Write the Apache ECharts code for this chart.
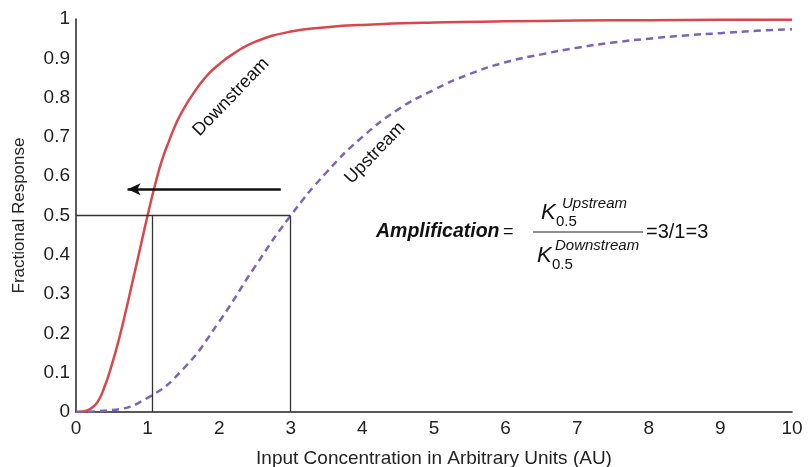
<!DOCTYPE html>
<html>
<head>
<meta charset="utf-8">
<script src="https://cdn.jsdelivr.net/npm/echarts@6/dist/echarts.min.js"></script>
<style>
  html, body { margin: 0; padding: 0; background: #fff; }
  #main { width: 809px; height: 467px; }
</style>
</head>
<body>
<div id="main"></div>
<script>
// data
var downX = [0, 0.1, 0.2, 0.3, 0.4, 0.5, 0.6, 0.7, 0.8, 0.9, 1.0, 1.1, 1.2, 1.3, 1.4, 1.5, 1.6, 1.8, 2.0, 2.2, 2.5, 3, 3.5, 4, 5, 6, 7, 8, 9, 10];
var downY = [0, 0.001, 0.008, 0.025, 0.065, 0.12, 0.185, 0.26, 0.34, 0.42, 0.5, 0.575, 0.64, 0.69, 0.735, 0.77, 0.8, 0.85, 0.885, 0.912, 0.942, 0.968, 0.979, 0.985, 0.991, 0.994, 0.996, 0.997, 0.998, 0.998];
var upX = [0, 0.5, 1, 1.5, 2, 2.5, 3, 3.5, 4, 4.5, 5, 5.5, 6, 6.5, 7, 7.5, 8, 8.5, 9, 9.5, 10];
var upY = [0, 0.005, 0.036, 0.11, 0.23, 0.37, 0.5, 0.61, 0.7, 0.77, 0.82, 0.86, 0.89, 0.91, 0.927, 0.94, 0.95, 0.958, 0.964, 0.97, 0.974];
var xTicks = [0, 1, 2, 3, 4, 5, 6, 7, 8, 9, 10];
var yTicks = ['0', '0.1', '0.2', '0.3', '0.4', '0.5', '0.6', '0.7', '0.8', '0.9', '1'];
var halfK = [1.06, 2.99];   // K0.5 guide lines
var arrowFrom = [2.86, 0.567];
var arrowTo = [0.72, 0.567];

var font = 'Liberation Sans, Arial, sans-serif';

function pairs(xs, ys) {
  var out = [];
  for (var i = 0; i < xs.length; i++) out.push([xs[i], ys[i]]);
  return out;
}

var chart = echarts.init(document.getElementById('main'));

var guideLine = { color: '#333', width: 1.3, type: 'solid' };

var option = {
  animation: false,
  grid: { left: 76, right: 17, top: 19, bottom: 55, containLabel: false, outerBoundsMode: 'none' },
  xAxis: {
    type: 'value', min: 0, max: 10, interval: 1,
    name: 'Input Concentration in Arbitrary Units (AU)',
    nameLocation: 'middle', nameGap: 37,
    nameTextStyle: { fontFamily: font, fontSize: 19, color: '#222' },
    axisLine: { lineStyle: { color: '#222', width: 1.5 } },
    axisTick: { show: false },
    splitLine: { show: false },
    axisLabel: { fontFamily: font, fontSize: 19, color: '#222', margin: 7,
      formatter: function (v) { return xTicks.indexOf(v) >= 0 ? String(v) : ''; } }
  },
  yAxis: {
    type: 'value', min: 0, max: 1, interval: 0.1,
    name: 'Fractional Response',
    nameLocation: 'middle', nameGap: 48,
    nameTextStyle: { fontFamily: font, fontSize: 17, color: '#222' },
    axisLine: { show: true, lineStyle: { color: '#222', width: 1.5 } },
    axisTick: { show: false },
    splitLine: { show: false },
    axisLabel: { fontFamily: font, fontSize: 19, color: '#222', margin: 6,
      formatter: function (v) { return yTicks[Math.round(v * 10)]; } }
  },
  series: [
    {
      name: 'Downstream', type: 'line', smooth: 0.5, showSymbol: false,
      data: pairs(downX, downY),
      lineStyle: { color: '#d9474b', width: 2.5 },
      z: 3,
      markLine: {
        silent: true, symbol: 'none', label: { show: false },
        lineStyle: guideLine,
        data: [
          [{ coord: [0, 0.5] }, { coord: [halfK[1], 0.5] }],
          [{ coord: [halfK[0], 0] }, { coord: [halfK[0], 0.5] }],
          [{ coord: [halfK[1], 0] }, { coord: [halfK[1], 0.5] }],
          [{ coord: arrowFrom, symbol: 'none' },
           { coord: arrowTo, symbol: 'arrow', symbolSize: [9, 13],
             lineStyle: { color: '#111', width: 2.5 } }]
        ]
      }
    },
    {
      name: 'Upstream', type: 'line', smooth: 0.5, showSymbol: false,
      data: pairs(upX, upY),
      lineStyle: { color: '#7b63b8', width: 2.5, type: [7, 5] },
      z: 3
    }
  ],
  graphic: [
    { type: 'text', x: 231, y: 97, rotation: 46 * Math.PI / 180,
      style: { text: 'Downstream', font: '18px ' + font, fill: '#111', align: 'center', verticalAlign: 'middle' } },
    { type: 'text', x: 375, y: 153, rotation: 46 * Math.PI / 180,
      style: { text: 'Upstream', font: '18px ' + font, fill: '#111', align: 'center', verticalAlign: 'middle' } },
    { type: 'text', x: 376, y: 232,
      style: { text: 'Amplification', font: 'italic bold 19.5px ' + font, fill: '#111', verticalAlign: 'middle' } },
    { type: 'text', x: 503, y: 232,
      style: { text: '=', font: '18px ' + font, fill: '#111', verticalAlign: 'middle' } },
    // numerator
    { type: 'text', x: 541, y: 213,
      style: { text: 'K', font: 'italic 22px ' + font, fill: '#111', verticalAlign: 'middle' } },
    { type: 'text', x: 556, y: 222,
      style: { text: '0.5', font: '15px ' + font, fill: '#111', verticalAlign: 'middle' } },
    { type: 'text', x: 562, y: 204,
      style: { text: 'Upstream', font: 'italic 15px ' + font, fill: '#111', verticalAlign: 'middle' } },
    { type: 'line', shape: { x1: 533, y1: 232, x2: 643, y2: 232 },
      style: { stroke: '#222', lineWidth: 1.2 } },
    // denominator
    { type: 'text', x: 537, y: 256,
      style: { text: 'K', font: 'italic 22px ' + font, fill: '#111', verticalAlign: 'middle' } },
    { type: 'text', x: 552, y: 265,
      style: { text: '0.5', font: '15px ' + font, fill: '#111', verticalAlign: 'middle' } },
    { type: 'text', x: 555, y: 246,
      style: { text: 'Downstream', font: 'italic 15px ' + font, fill: '#111', verticalAlign: 'middle' } },
    { type: 'text', x: 646, y: 232,
      style: { text: '=3/1=3', font: '20px ' + font, fill: '#111', verticalAlign: 'middle' } }
  ]
};

chart.setOption(option);
</script>
</body>
</html>
